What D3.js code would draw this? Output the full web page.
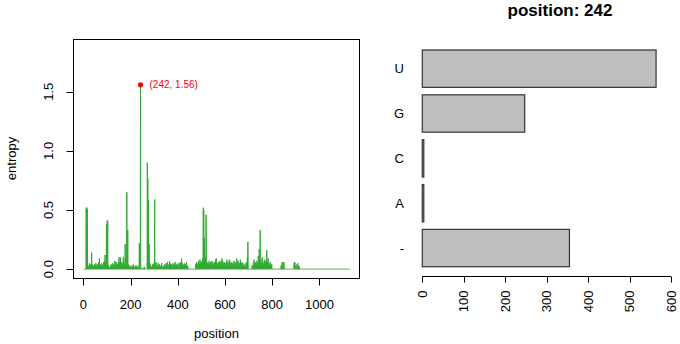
<!DOCTYPE html>
<html>
<head>
<meta charset="utf-8">
<script src="https://cdn.jsdelivr.net/npm/d3@7"></script>
<style>
  html, body { margin: 0; padding: 0; background: #fff; }
  svg { display: block; font-family: "Liberation Sans", Arial, sans-serif; }
</style>
</head>
<body>
<svg id="chart" width="680" height="344"></svg>
<script>
// ---------------- data ----------------
const seqLength = 1130;
// non-zero entropy values (all other positions are 0)
const position = [
  12, 14, 17, 20, 23, 26, 29, 32, 35, 38, 41, 44, 47, 50, 53, 56, 59, 62, 65, 68, 71, 74, 77, 80, 83, 86, 89, 92, 95,
  98, 101, 103,
  106, 109, 112, 115, 118, 121, 124, 127, 130, 133, 136, 139, 142, 145, 148, 151, 154, 157, 160, 163, 166, 169, 172, 175,
  177, 180, 184, 188,
  191, 194, 197, 200, 203, 206, 209, 212, 215, 218, 221, 224, 227, 230, 233, 237, 242,
  250, 258, 271, 273, 275, 279, 282, 286,
  290, 293, 296, 299, 302, 305, 308, 311, 314, 317, 320, 323, 326, 329, 332, 335, 338, 341, 344, 347, 350, 353, 356, 359,
  362, 365, 368, 371, 374, 377, 380, 383, 386, 389, 392, 395, 398, 401, 404, 407, 410, 413, 416, 419, 422, 425, 428, 431,
  434, 437, 440, 443,
  476, 479, 482, 485, 488, 491, 494, 497, 500, 503, 506, 508, 510, 513, 516, 520, 524, 527, 530, 533, 536, 539, 542, 545,
  548, 551, 554, 557, 560, 563, 566, 569, 572, 575, 578, 581, 584, 587, 590, 593, 596, 599, 602, 605, 608, 611, 614, 617,
  620, 623, 626, 629, 632, 635, 638, 641, 644, 647, 650, 653, 656, 659, 662, 665, 668, 671, 674, 677, 680, 683, 686, 689,
  692, 695, 697,
  715, 720, 723, 726, 729, 732, 735, 738, 741, 745, 749, 752, 755, 758, 761, 764, 767, 770, 773, 777, 780, 783, 786, 789,
  792, 795, 798,
  838, 842, 845, 850, 893, 896, 900, 905, 908, 912, 915
];
const entropy = [
  0.52, 0.52, 0.51, 0.03, 0.02, 0.05, 0.04, 0.03, 0.14, 0.04, 0.03, 0.02, 0.04, 0.03, 0.05, 0.02, 0.04, 0.03, 0.06, 0.09, 0.04, 0.03, 0.05, 0.02, 0.04, 0.06, 0.07, 0.12, 0.05,
  0.38, 0.41, 0.41,
  0.03, 0.02, 0.01, 0.03, 0.04, 0.02, 0.05, 0.03, 0.04, 0.07, 0.05, 0.06, 0.03, 0.04, 0.06, 0.10, 0.05, 0.10, 0.04, 0.06, 0.03, 0.10, 0.05, 0.04,
  0.21, 0.09, 0.65, 0.33,
  0.04, 0.02, 0.03, 0.02, 0.01, 0.03, 0.02, 0.04, 0.02, 0.01, 0.03, 0.02, 0.03, 0.01, 0.02, 0.22, 1.56,
  0.01, 0.02, 0.90, 0.77, 0.58, 0.21, 0.05, 0.03,
  0.02, 0.04, 0.03, 0.05, 0.59, 0.04, 0.06, 0.03, 0.02, 0.05, 0.03, 0.04, 0.02, 0.03, 0.05, 0.02, 0.01, 0.03, 0.04, 0.02, 0.05, 0.03, 0.06, 0.04,
  0.02, 0.07, 0.05, 0.03, 0.04, 0.02, 0.05, 0.03, 0.04, 0.06, 0.02, 0.04, 0.03, 0.05, 0.02, 0.04, 0.06, 0.03, 0.09, 0.05, 0.04, 0.03, 0.05, 0.02,
  0.04, 0.06, 0.03, 0.02,
  0.04, 0.06, 0.03, 0.05, 0.07, 0.04, 0.08, 0.06, 0.05, 0.07, 0.09, 0.52, 0.50, 0.26, 0.10, 0.46, 0.06, 0.04, 0.05, 0.07, 0.04, 0.06, 0.03, 0.07,
  0.05, 0.04, 0.06, 0.05, 0.08, 0.09, 0.05, 0.03, 0.06, 0.04, 0.07, 0.05, 0.06, 0.09, 0.07, 0.04, 0.06, 0.05, 0.03, 0.06, 0.08, 0.05, 0.04, 0.07,
  0.08, 0.05, 0.03, 0.06, 0.04, 0.05, 0.07, 0.03, 0.06, 0.04, 0.09, 0.05, 0.07, 0.03, 0.05, 0.08, 0.04, 0.06, 0.03, 0.05, 0.04, 0.02, 0.03, 0.05,
  0.06, 0.10, 0.23,
  0.03, 0.05, 0.08, 0.04, 0.06, 0.03, 0.07, 0.05, 0.11, 0.17, 0.33, 0.08, 0.05, 0.10, 0.06, 0.04, 0.08, 0.05, 0.07, 0.16, 0.06, 0.09, 0.05, 0.04,
  0.06, 0.03, 0.04,
  0.03, 0.06, 0.04, 0.06, 0.05, 0.06, 0.03, 0.04, 0.05, 0.03, 0.02
];
const selectedPos = 242;
const selectedEntropy = 1.56;

const xTicks = [0, 200, 400, 600, 800, 1000];
const yTicks = [0, 0.5, 1.0, 1.5];
const yTickLabels = ["0.0", "0.5", "1.0", "1.5"];

const bases = ["-", "A", "C", "G", "U"];       // bottom to top
const baseCounts = [355, 3, 3, 247, 564];
const countTicks = [0, 100, 200, 300, 400, 500, 600];

// ---------------- drawing ----------------
const svg = d3.select("#chart");
svg.append("rect").attr("width", 680).attr("height", 344).attr("fill", "#fff");

const FONT = 13;
const green = "#33a833";

// ----- left panel: entropy line -----
const L = { x0: 73, x1: 360, y0: 39, y1: 278 };
const yMaxLim = selectedEntropy * 1.2;
const yPad = yMaxLim * 0.04;
const x = d3.scaleLinear().domain([-44, 1172]).range([L.x0, L.x1]);
const y = d3.scaleLinear().domain([-yPad, yMaxLim + yPad]).range([L.y1, L.y0]);

const valueAt = new Map(position.map((p, i) => [p, entropy[i]]));
const series = d3.range(1, seqLength + 1).map(p => ({ p, v: valueAt.has(p) ? valueAt.get(p) : 0 }));

svg.append("path")
  .datum(series)
  .attr("fill", "none")
  .attr("stroke", green)
  .attr("stroke-width", 1)
  .attr("d", d3.line().x(d => x(d.p)).y(d => y(d.v)));

// highlighted point
svg.append("circle")
  .attr("cx", x(selectedPos)).attr("cy", y(selectedEntropy)).attr("r", 2.6)
  .attr("fill", "#ff0000");
svg.append("text")
  .attr("x", x(selectedPos) + 9).attr("y", y(selectedEntropy))
  .attr("dy", "0.35em")
  .attr("font-size", 10).attr("fill", "#ff0000")
  .text(`(${selectedPos}, ${selectedEntropy})`);

// box
svg.append("rect")
  .attr("x", L.x0 + 0.5).attr("y", L.y0 + 0.5)
  .attr("width", L.x1 - L.x0 - 1).attr("height", L.y1 - L.y0)
  .attr("fill", "none").attr("stroke", "#000").attr("stroke-width", 1);

// x axis
const xAxisG = svg.append("g").attr("transform", `translate(0,${L.y1 + 0.5})`);
xAxisG.append("line")
  .attr("x1", x(xTicks[0])).attr("x2", x(xTicks[xTicks.length - 1]))
  .attr("stroke", "#000");
xTicks.forEach(t => {
  const xp = Math.round(x(t)) + 0.5;
  xAxisG.append("line").attr("x1", xp).attr("x2", xp).attr("y1", 0).attr("y2", 7).attr("stroke", "#000");
  xAxisG.append("text").attr("x", x(t)).attr("y", 30).attr("text-anchor", "middle")
    .attr("font-size", FONT).attr("fill", "#000").text(d3.format("d")(t));
});
svg.append("text").attr("x", (L.x0 + L.x1) / 2).attr("y", 338).attr("text-anchor", "middle")
  .attr("font-size", FONT).attr("fill", "#000").text("position");

// y axis
const yAxisG = svg.append("g").attr("transform", `translate(${L.x0 + 0.5},0)`);
yAxisG.append("line")
  .attr("y1", y(yTicks[0])).attr("y2", y(yTicks[yTicks.length - 1]))
  .attr("stroke", "#000");
yTicks.forEach((t, i) => {
  const yp = Math.round(y(t)) + 0.5;
  yAxisG.append("line").attr("x1", 0).attr("x2", -7).attr("y1", yp).attr("y2", yp).attr("stroke", "#000");
  yAxisG.append("text")
    .attr("transform", `translate(-21,${y(t)}) rotate(-90)`)
    .attr("text-anchor", "middle")
    .attr("font-size", FONT).attr("fill", "#000").text(yTickLabels[i]);
});
svg.append("text")
  .attr("transform", `translate(16,${(L.y0 + L.y1) / 2}) rotate(-90)`)
  .attr("text-anchor", "middle")
  .attr("font-size", FONT).attr("fill", "#000").text("entropy");

// ----- right panel: base counts -----
const R = { axisY: 276 };
const bx = d3.scaleLinear().domain([0, 600]).range([422.3, 671]);
const by = d3.scaleLinear().domain([-0.032, 6.232]).range([275.4, 41.3]);

svg.append("text")
  .attr("x", 560).attr("y", 16).attr("text-anchor", "middle")
  .attr("font-size", 17).attr("font-weight", "bold").attr("fill", "#000")
  .text(`position: ${selectedPos}`);

bases.forEach((b, i) => {
  const lo = 0.2 + i * 1.2, hi = lo + 1;
  const yTop = by(hi), yBot = by(lo);
  svg.append("rect")
    .attr("x", bx(0)).attr("y", yTop)
    .attr("width", Math.max(bx(baseCounts[i]) - bx(0), 1.5))
    .attr("height", yBot - yTop)
    .attr("fill", "#bebebe").attr("stroke", "#333").attr("stroke-width", 1.2);
  svg.append("text")
    .attr("x", 404).attr("y", (yTop + yBot) / 2).attr("dy", "0.35em")
    .attr("text-anchor", "end").attr("font-size", FONT).attr("fill", "#000")
    .text(b);
});

const bAxis = svg.append("g").attr("transform", `translate(0,${R.axisY + 0.5})`);
bAxis.append("line").attr("x1", bx(0)).attr("x2", bx(600)).attr("stroke", "#000");
countTicks.forEach(t => {
  const xp = Math.round(bx(t)) + 0.5;
  bAxis.append("line").attr("x1", xp).attr("x2", xp).attr("y1", 0).attr("y2", 6).attr("stroke", "#000");
  bAxis.append("text")
    .attr("transform", `translate(${bx(t) + 4.5},14) rotate(-90)`)
    .attr("text-anchor", "end")
    .attr("font-size", FONT).attr("fill", "#000").text(t);
});
</script>
</body>
</html>
